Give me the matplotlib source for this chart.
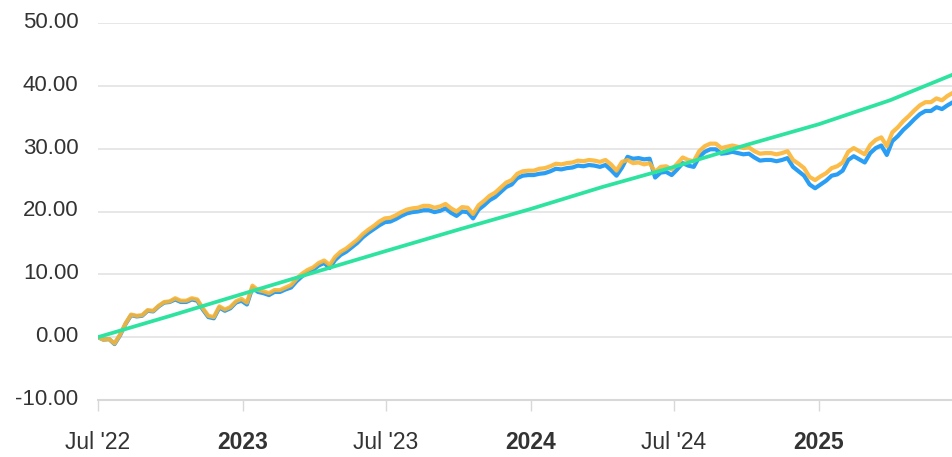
import matplotlib
matplotlib.use("Agg")
import matplotlib.pyplot as plt
import matplotlib.transforms as mtransforms
from matplotlib.ticker import FuncFormatter
import pandas as pd

# weekly values, starting 2022-07-01
start = "2022-07-01"
orange = [
    0.0, -0.4, -0.3, -1.0, 0.4, 2.2, 3.6, 3.4, 3.5, 4.3,
    4.2, 5.0, 5.6, 5.7, 6.2, 5.8, 5.8, 6.2, 6.0, 4.6,
    3.4, 3.2, 4.9, 4.4, 4.8, 5.7, 6.1, 5.5, 8.2, 7.5,
    7.3, 7.0, 7.5, 7.5, 7.9, 8.3, 9.3, 10.1, 10.7, 11.1,
    11.8, 12.2, 11.5, 12.8, 13.6, 14.1, 14.8, 15.5, 16.4, 17.1,
    17.7, 18.4, 18.9, 19.0, 19.4, 19.9, 20.3, 20.5, 20.6, 20.9,
    20.9, 20.6, 20.8, 21.2, 20.5, 20.0, 20.7, 20.6, 19.6, 21.0,
    21.7, 22.5, 23.0, 23.8, 24.6, 25.0, 26.0, 26.4, 26.5, 26.5,
    26.8, 26.9, 27.2, 27.6, 27.5, 27.7, 27.8, 28.1, 28.0, 28.2,
    28.1, 27.9, 28.2, 27.5, 26.5, 27.9, 28.2, 27.7, 27.8, 27.5,
    27.7, 26.3, 27.1, 27.2, 26.7, 27.6, 28.6, 28.2, 28.0, 29.6,
    30.4, 30.8, 30.8, 30.1, 30.3, 30.5, 30.3, 30.1, 30.2, 29.6,
    29.2, 29.3, 29.3, 29.1, 29.3, 29.6, 28.2, 27.6, 26.9, 25.5,
    25.0, 25.6, 26.1, 26.9, 27.2, 27.8, 29.5, 30.1, 29.6, 29.1,
    30.6, 31.4, 31.8, 30.4, 32.6, 33.4, 34.4, 35.2, 36.1, 36.9,
    37.4, 37.4, 38.0, 37.7, 38.4, 38.9,
]
blue = [
    0.0, -0.4, -0.3, -1.1, 0.3, 2.1, 3.5, 3.3, 3.4, 4.2,
    4.1, 4.9, 5.5, 5.6, 6.0, 5.6, 5.6, 6.0, 5.8, 4.4,
    3.2, 3.0, 4.7, 4.2, 4.6, 5.5, 5.8, 5.2, 7.9, 7.2,
    7.0, 6.7, 7.2, 7.2, 7.6, 7.9, 8.9, 9.7, 10.3, 10.7,
    11.4, 11.8, 11.0, 12.3, 13.1, 13.6, 14.3, 15.0, 15.9, 16.6,
    17.2, 17.8, 18.3, 18.4, 18.8, 19.3, 19.7, 19.9, 20.0, 20.2,
    20.2, 19.9, 20.1, 20.5, 19.8, 19.3, 20.0, 19.9, 18.9, 20.3,
    21.0, 21.8, 22.3, 23.1, 23.9, 24.3, 25.3, 25.7, 25.8, 25.8,
    26.0, 26.1, 26.4, 26.8, 26.7, 26.9, 27.0, 27.3, 27.2, 27.4,
    27.3, 27.1, 27.4, 26.6, 25.7, 27.0, 28.7, 28.4, 28.5, 28.3,
    28.4, 25.4, 26.2, 26.3, 25.8, 26.7, 27.7, 27.3, 27.1, 28.7,
    29.5, 29.9, 29.9, 29.2, 29.3, 29.5, 29.3, 29.1, 29.2, 28.6,
    28.1, 28.2, 28.2, 28.0, 28.2, 28.5, 27.1, 26.4, 25.7, 24.3,
    23.7, 24.3, 24.9, 25.7, 25.9, 26.5, 28.2, 28.8, 28.3, 27.8,
    29.3, 30.1, 30.5, 29.0, 31.2, 32.0, 33.0, 33.8, 34.7, 35.5,
    36.0, 36.0, 36.6, 36.3, 36.9, 37.4,
]
green_dates = ["2022-07-01", "2022-10-01", "2023-01-01", "2023-04-01", "2023-07-01",
               "2023-10-01", "2024-01-01", "2024-04-01", "2024-07-01", "2024-10-01",
               "2025-01-01", "2025-04-01", "2025-06-20"]
green = [0.0, 3.4, 6.9, 10.3, 13.7, 17.1, 20.4, 23.9, 27.1, 30.6, 33.9, 37.7, 41.8]

tick_dates = ["2022-07-01", "2023-01-01", "2023-07-01", "2024-01-01", "2024-07-01", "2025-01-01"]
tick_labels = ["Jul '22", "2023", "Jul '23", "2024", "Jul '24", "2025"]
y_ticks = [-10, 0, 10, 20, 30, 40, 50]

plt.rcParams['font.family'] = ['Liberation Sans', 'DejaVu Sans']

dates = pd.date_range(start, periods=len(orange), freq="7D")
gdates = pd.to_datetime(green_dates)

fig = plt.figure(figsize=(9.53, 4.57), dpi=100)
ax = fig.add_axes([98 / 953, 57 / 457, 1 - 98 / 953, 377 / 457])

ax.plot(dates, blue, color="#2a9ef5", lw=3.0, zorder=3, solid_joinstyle="round")
ax.plot(dates, orange, color="#fbb535", lw=3.0, alpha=0.9, zorder=4, solid_joinstyle="round")
ax.plot(gdates, green, color="#2ee3a0", lw=2.7, zorder=5)

ax.set_ylim(-10, 50)
ax.set_xlim(pd.Timestamp(start), dates[-1])
ax.set_yticks(y_ticks)
ax.yaxis.set_major_formatter(FuncFormatter(lambda v, p: f"{v:.2f}"))
ax.grid(axis="y", color="#e3e3e3", lw=1.2)
ax.set_axisbelow(True)

for s in ["top", "right", "left"]:
    ax.spines[s].set_visible(False)
ax.spines["bottom"].set_color("#d8d8d8")
ax.spines["bottom"].set_linewidth(1.5)

ax.set_xticks(pd.to_datetime(tick_dates))
ax.set_xticklabels(tick_labels)
for lab in ax.get_xticklabels():
    if not lab.get_text().startswith("Jul"):
        lab.set_fontweight("bold")

ax.tick_params(axis="y", length=0, pad=14, labelsize=16, labelcolor="#333333")
ax.tick_params(axis="x", length=8, width=1, color="#d8d8d8", pad=14,
               labelsize=16.5, labelcolor="#333333")

# y labels sit a little above their gridlines
shift = mtransforms.ScaledTranslation(0, 3 / 100, fig.dpi_scale_trans)
for lab in ax.get_yticklabels():
    lab.set_transform(lab.get_transform() + shift)

fig.savefig("out.png", dpi=100)
